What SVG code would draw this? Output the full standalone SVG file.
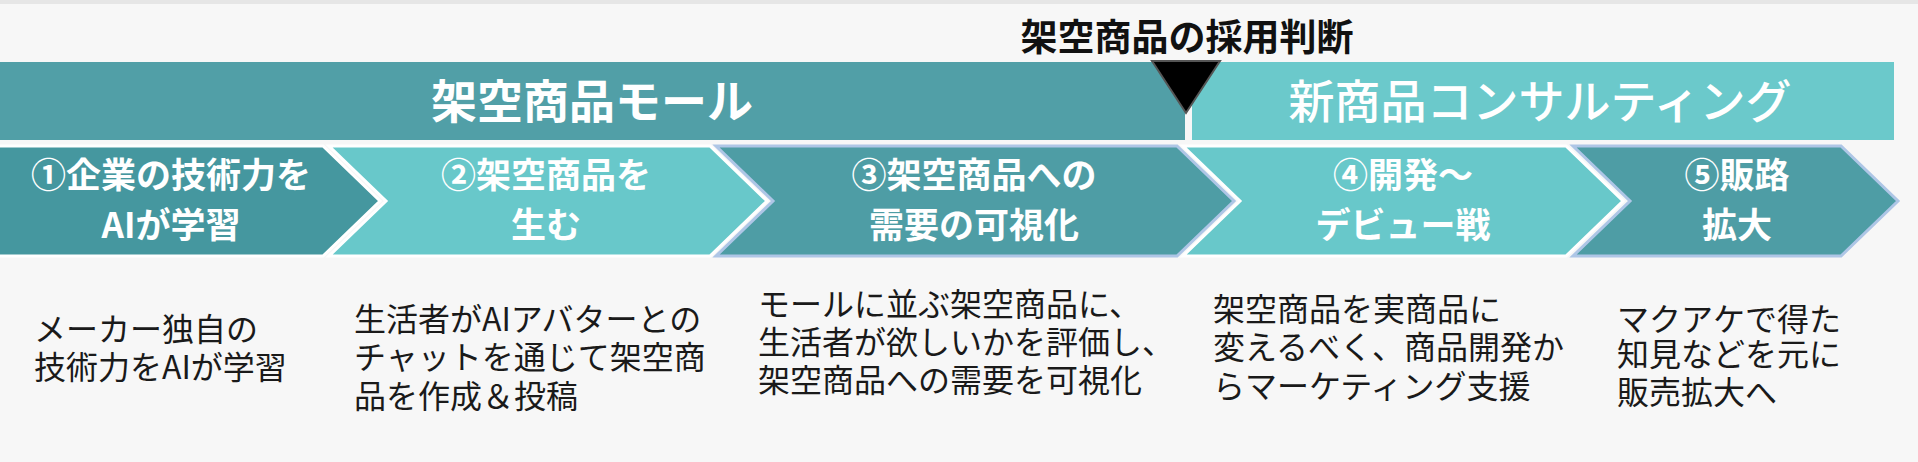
<svg xmlns="http://www.w3.org/2000/svg" width="1918" height="462" viewBox="0 0 1918 462">
<style>
.jp{font-family:"Noto Sans CJK JP","Noto Sans CJK SC",sans-serif}
.bar{font-size:46px;fill:#ffffff;text-anchor:middle}
.chev{font-size:35px;font-weight:bold;fill:#ffffff;text-anchor:middle}
.desc{font-size:32px;fill:#1a1a1a}
.dark{fill:#4e9da5}
.light{fill:#68c8ca}
.sw{stroke:#ffffff;stroke-width:3}
.sb{stroke:#aec6e6;stroke-width:3}
</style>
<rect x="0" y="0" width="1918" height="462" fill="#f7f7f7"/>
<rect x="0" y="0" width="1918" height="4" fill="#e6e6e6"/>

<g id="bar-mall">
<rect x="0" y="62" width="1185" height="78" fill="#519fa7"/>
<text class="jp bar" x="592" y="118" font-weight="bold">架空商品モール</text>
</g>
<g id="bar-consulting">
<rect x="1192" y="62" width="702" height="78" fill="#6bc9cb"/>
<text class="jp bar" x="1540" y="118" font-weight="500">新商品コンサルティング</text>
</g>

<g id="decision">
<text class="jp" x="1187" y="51" font-size="37" font-weight="bold" fill="#111111" text-anchor="middle">架空商品の採用判断</text>
<polygon points="1152,61 1220,61 1186,113" fill="#000000" stroke="#555555" stroke-width="2"/>
</g>

<g id="step1">
<polygon class="sw" points="-10,146 323,146 380,201 323,256 -10,256" fill="#45979f"/>
<text class="jp chev"><tspan x="171" y="188">①企業の技術力を</tspan><tspan x="171" y="238">AIが学習</tspan></text>
</g>
<g id="step2">
<polygon class="light sw" points="329,146 710,146 767,201 710,256 329,256 386,201"/>
<text class="jp chev"><tspan x="546" y="188">②架空商品を</tspan><tspan x="546" y="238">生む</tspan></text>
</g>
<g id="step3">
<polygon class="dark sb" points="716,146 1177,146 1234,201 1177,256 716,256 773,201"/>
<text class="jp chev"><tspan x="974" y="188">③架空商品への</tspan><tspan x="974" y="238">需要の可視化</tspan></text>
</g>
<g id="step4">
<polygon class="light sw" points="1183,146 1566,146 1623,201 1566,256 1183,256 1240,201"/>
<text class="jp chev"><tspan x="1403" y="188">④開発～</tspan><tspan x="1403" y="238">デビュー戦</tspan></text>
</g>
<g id="step5">
<polygon class="dark sb" points="1573,146 1841,146 1898,201 1841,256 1573,256 1630,201"/>
<text class="jp chev"><tspan x="1737" y="188">⑤販路</tspan><tspan x="1737" y="238">拡大</tspan></text>
</g>

<g id="connectors"></g>

<g id="desc1">
<text class="jp desc"><tspan x="34" y="341">メーカー独自の</tspan><tspan x="34" y="379">技術力をAIが学習</tspan></text>
</g>
<g id="desc2">
<text class="jp desc"><tspan x="354" y="331">生活者がAIアバターとの</tspan><tspan x="354" y="369">チャットを通じて架空商</tspan><tspan x="354" y="408">品を作成＆投稿</tspan></text>
</g>
<g id="desc3">
<text class="jp desc"><tspan x="758" y="316">モールに並ぶ架空商品に、</tspan><tspan x="758" y="354">生活者が欲しいかを評価し、</tspan><tspan x="758" y="392">架空商品への需要を可視化</tspan></text>
</g>
<g id="desc4">
<text class="jp desc"><tspan x="1213" y="321">架空商品を実商品に</tspan><tspan x="1213" y="359">変えるべく、商品開発か</tspan><tspan x="1213" y="398">らマーケティング支援</tspan></text>
</g>
<g id="desc5">
<text class="jp desc"><tspan x="1617" y="331">マクアケで得た</tspan><tspan x="1617" y="366">知見などを元に</tspan><tspan x="1617" y="404">販売拡大へ</tspan></text>
</g>
</svg>
